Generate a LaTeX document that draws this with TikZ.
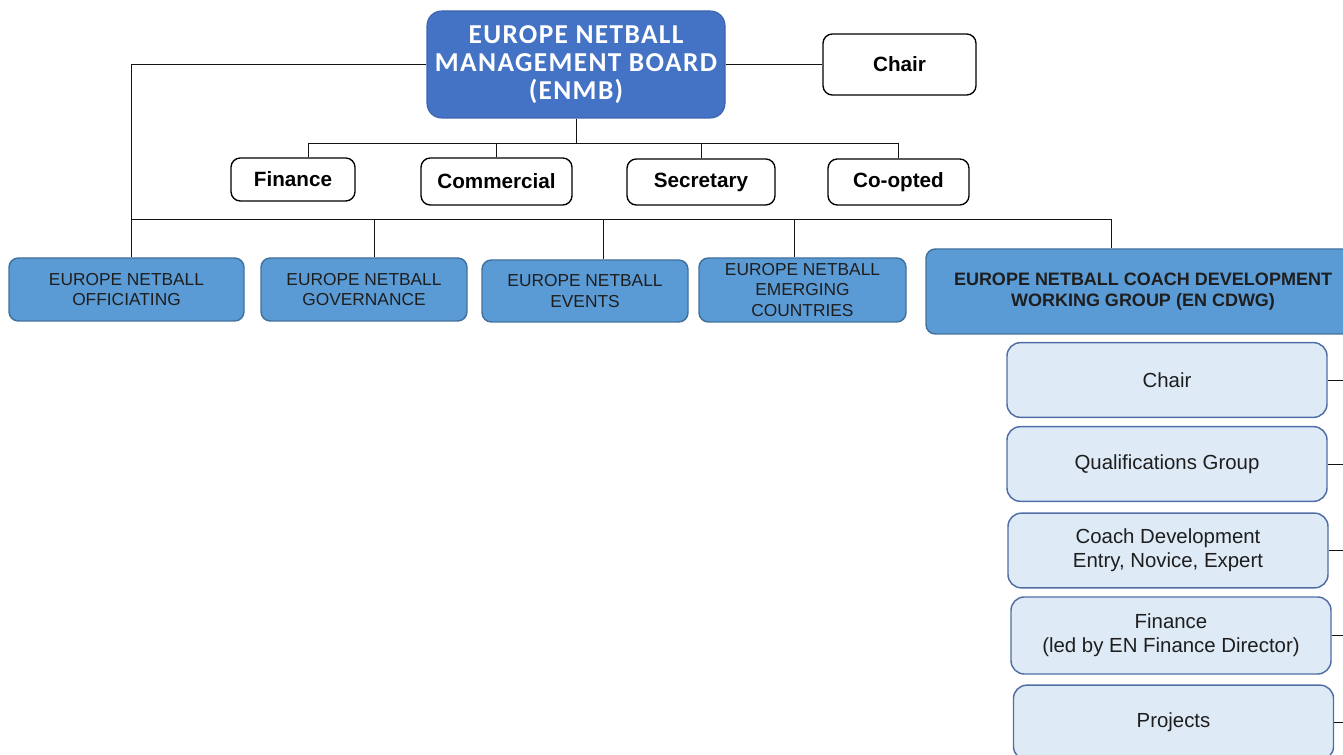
\documentclass[tikz,border=0pt]{standalone}
\usepackage{fontspec}
\setmainfont{Liberation Sans}
\newfontfamily\boardfont[LetterSpace=5]{Carlito}

\begin{document}
\begin{tikzpicture}[x=0.75pt,y=0.75pt,yscale=-1,xscale=1,
	line/.style={draw={rgb,255:red,20;green,20;blue,20},line width=0.65pt},
	board/.style={rounded corners=11pt,fill={rgb,255:red,68;green,114;blue,196},draw={rgb,255:red,60;green,100;blue,175},line width=0.8pt,text=white,align=center,font=\boardfont\bfseries\fontsize{20.5}{21}\selectfont,inner sep=0pt},
	officer/.style={rounded corners=7pt,draw,fill=white,line width=1pt,font=\bfseries\fontsize{15.5}{18}\selectfont,inner sep=0pt},
	branch/.style={rounded corners=7pt,fill={rgb,255:red,91;green,155;blue,213},draw={rgb,255:red,65;green,113;blue,156},line width=1.1pt,text={rgb,255:red,30;green,30;blue,30},align=center,font=\fontsize{13}{15.5}\selectfont,inner sep=0pt},
	member/.style={rounded corners=10pt,fill={rgb,255:red,222;green,235;blue,247},draw={rgb,255:red,80;green,110;blue,165},line width=1.1pt,text={rgb,255:red,30;green,30;blue,30},align=center,font=\fontsize{15.3}{18}\selectfont,inner sep=0pt,minimum width=240pt,minimum height=56pt}]
	\clip (0,0) rectangle (1343,755);
	\node[board,minimum width=223.5pt,minimum height=80.25pt] (enmb) at (576,64.5) {EUROPE NETBALL\\MANAGEMENT BOARD\\(ENMB)};
	\node[officer,minimum width=114.75pt,minimum height=45.75pt] (chair) at (899.5,64.5) {Chair};
	\node[officer,minimum width=93pt,minimum height=32.25pt] (fin) at (293,179.5) {Finance};
	\node[officer,minimum width=113.25pt,minimum height=35.25pt] (com) at (496.5,181.5) {Commercial};
	\node[officer,minimum width=111pt,minimum height=34.5pt] (sec) at (701,182) {Secretary};
	\node[officer,minimum width=105.75pt,minimum height=34.5pt] (coo) at (898.5,182) {Co-opted};
	\node[branch,minimum width=176.25pt,minimum height=47.25pt] (off) at (126.5,289.5) {EUROPE NETBALL\\OFFICIATING};
	\node[branch,minimum width=154.5pt,minimum height=47.25pt] (gov) at (364,289.5) {EUROPE NETBALL\\GOVERNANCE};
	\node[branch,minimum width=154.5pt,minimum height=46.5pt] (evt) at (585,291) {EUROPE NETBALL\\EVENTS};
	\node[branch,minimum width=155.25pt,minimum height=48pt] (emg) at (802.5,290) {EUROPE NETBALL\\EMERGING\\COUNTRIES};
	\node[branch,minimum width=325.5pt,minimum height=63.75pt,font=\bfseries\fontsize{13.5}{15.75}\selectfont] (cdw) at (1143,291.5) {EUROPE NETBALL COACH DEVELOPMENT\\WORKING GROUP (EN CDWG)};
	\node[member] (mchair) at (1167,380) {Chair};
	\node[member] (qual) at (1167,464) {Qualifications Group};
	\node[member] (cdev) at (1168,550.5) {Coach Development\\Entry, Novice, Expert};
	\node[member,minimum height=57.75pt] (mfin) at (1171,635.5) {Finance\\(led by EN Finance Director)};
	\node[member] (proj) at (1173.5,722.5) {Projects};
	\coordinate (bus1) at (576,143);
	\coordinate (bus2) at (131,219);
	\coordinate (edge) at (1343,0);
	\draw[line] (enmb) -- (chair);
	\draw[line] (enmb) -- (bus1);
	\draw[line] ([xshift=11.25pt]fin.north) |- (coo.north |- bus1) -- (coo.north);
	\foreach \n in {com,sec}
		\draw[line] (\n.north) -- (\n.north |- bus1);
	\draw[line] (enmb.west) -| ([xshift=3.4pt]off.north);
	\draw[line] (bus2) -- (1111,219) -- (cdw.north -| 1111,219);
	\foreach \x/\n in {374/gov,603/evt,794/emg}
		\draw[line] (\x,219) -- (\n.north -| \x,219);
	\foreach \n in {mchair,qual,cdev,mfin,proj}
		\draw[line] (\n.east) -- (\n.east -| edge);
\end{tikzpicture}
\end{document}
